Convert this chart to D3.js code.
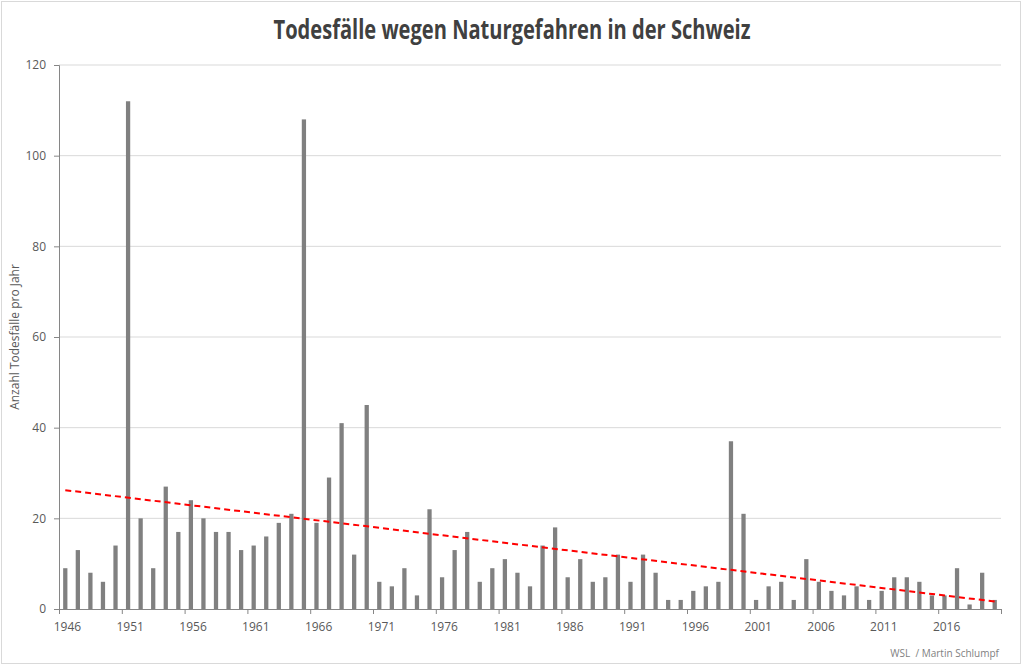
<!DOCTYPE html>
<html>
<head>
<meta charset="utf-8">
<script src="https://cdn.jsdelivr.net/npm/d3@7"></script>
<style>
  body { margin: 0; background: #fff; }
  svg { display: block; font-family: "Open Sans", sans-serif; }
</style>
</head>
<body>
<svg id="chart" width="1024" height="666"></svg>
<script>
// years 1946 - 2020
let years = d3.range(1946, 2021);

// Todesfaelle pro Jahr
let deaths = [
  9, 13, 8, 6, 14, 112, 20, 9, 27, 17,      // 1946-1955
  24, 20, 17, 17, 13, 14, 16, 19, 21, 108,  // 1956-1965
  19, 29, 41, 12, 45, 6, 5, 9, 3, 22,       // 1966-1975
  7, 13, 17, 6, 9, 11, 8, 5, 14, 18,        // 1976-1985
  7, 11, 6, 7, 12, 6, 12, 8, 2, 2,          // 1986-1995
  4, 5, 6, 37, 21, 2, 5, 6, 2, 11,          // 1996-2005
  6, 4, 3, 5, 2, 4, 7, 7, 6, 3,             // 2006-2015
  3, 9, 1, 8, 2                             // 2016-2020
];

let yTicks = [0, 20, 40, 60, 80, 100, 120];
let xLabelYears = d3.range(1946, 2021, 5);

let data = years.map(function(y, i) { return { year: y, value: deaths[i] }; });

let svg = d3.select("#chart");
let plotLeft = 59, plotRight = 1001, plotTop = 65, plotBottom = 609;

// outer border
svg.append("rect")
  .attr("x", 1.5).attr("y", 1.5)
  .attr("width", 1019).attr("height", 662)
  .attr("fill", "none").attr("stroke", "#d9d9d9");

let x = d3.scaleBand()
  .domain(years)
  .range([plotLeft, plotRight])
  .paddingInner(0.66)
  .paddingOuter(0.33);

// linear scale over category slots, used for tick marks between categories
let xSlot = d3.scaleLinear().domain([0, years.length]).range([plotLeft, plotRight]);

let y = d3.scaleLinear().domain([0, 120]).range([plotBottom, plotTop]);

// gridlines
svg.append("g")
  .selectAll("line")
  .data(yTicks.filter(function(d) { return d > 0; }))
  .enter().append("line")
    .attr("x1", plotLeft).attr("x2", plotRight)
    .attr("y1", function(d) { return y(d); })
    .attr("y2", function(d) { return y(d); })
    .attr("stroke", "#d9d9d9")
    .attr("stroke-width", 1);

// bars
svg.append("g")
  .selectAll("rect")
  .data(data)
  .enter().append("rect")
    .attr("x", function(d) { return x(d.year); })
    .attr("y", function(d) { return y(d.value); })
    .attr("width", x.bandwidth())
    .attr("height", function(d) { return y(0) - y(d.value); })
    .attr("fill", "#808080");

// linear trend (least squares, like the excel trendline)
let idx = d3.range(1, years.length + 1);
let mx = d3.mean(idx), my = d3.mean(deaths);
let sxy = d3.sum(idx, function(k, i) { return (k - mx) * (deaths[i] - my); });
let sxx = d3.sum(idx, function(k) { return (k - mx) * (k - mx); });
let slope = sxy / sxx, icpt = my - slope * mx;

let trendLine = d3.line()
  .x(function(p) { return x(p.year) + x.bandwidth() / 2; })
  .y(function(p) { return y(icpt + slope * (years.indexOf(p.year) + 1)); });

svg.append("path")
  .datum([data[0], data[data.length - 1]])
  .attr("d", trendLine)
  .attr("fill", "none")
  .attr("stroke", "#ff0000")
  .attr("stroke-width", 2)
  .attr("stroke-dasharray", "6,4");

// y axis
let yAxis = svg.append("g")
  .attr("transform", "translate(" + plotLeft + ",0)")
  .call(d3.axisLeft(y).tickValues(yTicks).tickSize(5).tickPadding(8));
yAxis.select(".domain").attr("stroke", "#868686");
yAxis.selectAll(".tick line").attr("stroke", "#868686");
yAxis.selectAll(".tick text")
  .attr("fill", "#595959")
  .style("font-size", "12px")
  .style("font-family", "Open Sans");

// x axis: tick marks between categories every 5 years
let xTicks = svg.append("g")
  .attr("transform", "translate(0," + plotBottom + ")")
  .call(d3.axisBottom(xSlot).tickValues(d3.range(0, years.length + 1, 5)).tickSize(5).tickFormat(""));
xTicks.select(".domain").attr("stroke", "#868686");
xTicks.selectAll(".tick line").attr("stroke", "#868686");

// x labels centred on the category
let xLabels = svg.append("g")
  .attr("transform", "translate(" + (x.bandwidth() / 2) + "," + plotBottom + ")")
  .call(d3.axisBottom(x).tickValues(xLabelYears).tickSize(0).tickPadding(13));
xLabels.select(".domain").remove();
xLabels.selectAll(".tick text")
  .attr("fill", "#595959")
  .style("font-size", "12px")
  .style("font-family", "Open Sans");

// title
svg.append("text")
  .attr("x", 512).attr("y", 39)
  .attr("text-anchor", "middle")
  .attr("fill", "#404040")
  .style("font-size", "26px")
  .style("font-weight", "bold")
  .attr("textLength", 477)
  .attr("lengthAdjust", "spacingAndGlyphs")
  .text("Todesfälle wegen Naturgefahren in der Schweiz");

// y axis title
svg.append("text")
  .attr("transform", "translate(19," + ((plotTop + plotBottom) / 2) + ") rotate(-90)")
  .attr("text-anchor", "middle")
  .attr("fill", "#595959")
  .style("font-size", "12px")
  .text("Anzahl Todesfälle pro Jahr");

// source
svg.append("text")
  .attr("x", 999).attr("y", 657)
  .attr("text-anchor", "end")
  .attr("fill", "#7f7f7f")
  .style("font-size", "10px")
  .style("white-space", "pre")
  .text("WSL  / Martin Schlumpf");
</script>
</body>
</html>
